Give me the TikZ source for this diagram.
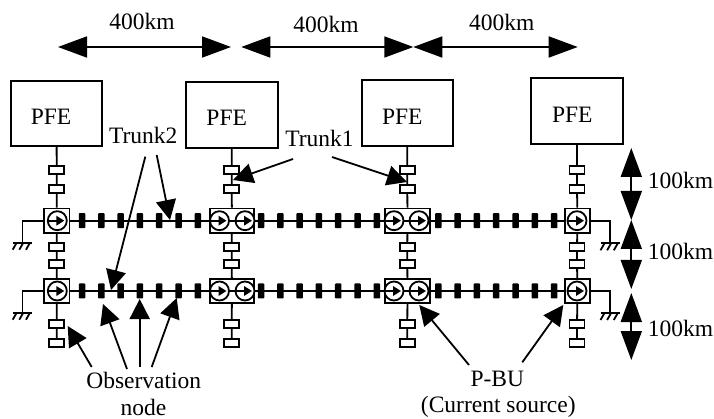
\documentclass[tikz,border=0pt]{standalone}
\usepackage{fontspec}
\setmainfont{Liberation Serif}
\usetikzlibrary{arrows.meta}
\tikzset{
    lbl/.style={anchor=base, inner sep=0pt, font=\fontsize{23.5}{28}\selectfont},
    pfebox/.style={draw, fill=white, inner sep=0pt},
    bubox/.style={draw, fill=white, inner sep=0pt, minimum height=24.5pt},
    rep/.style={draw, fill=white, inner sep=0pt, minimum width=15pt, minimum height=8pt},
    obs/.style={fill=black, inner sep=0pt, rounded corners=0.8pt, minimum width=6.5pt, minimum height=15pt},
    source/.style={circle, draw, fill=white, inner sep=0pt, minimum size=19pt, path picture={
        \draw[-{Triangle[length=8pt,width=9.5pt]}] (path picture bounding box.west) -- ([xshift=-2.5pt]path picture bounding box.east);}},
    dimarrow/.style={{Triangle[length=29pt,width=21pt]}-{Triangle[length=29pt,width=21pt]}},
    pointer/.style={-{Triangle[length=20pt,width=20pt]}},
    gnd/.pic={
        \draw (-9.5,0) -- (9.5,0);
        \draw (-5.8,0) -- (-9.8,7);
        \draw (0.8,0) -- (-3.2,7);
        \draw (7.5,0) -- (3.5,7);
    },
}
\begin{document}
\begin{tikzpicture}[x=1pt, y=-1pt, line width=1.8pt]
    \useasboundingbox (0,0) rectangle (714,419);
    \node[pfebox, minimum width=91.7pt, minimum height=65.3pt] (pfe1) at (56.5,113.7) {};
    \node[pfebox, minimum width=92pt, minimum height=65.3pt] (pfe2) at (232,115) {};
    \node[pfebox, minimum width=91pt, minimum height=65.7pt] (pfe3) at (407.2,112.8) {};
    \node[pfebox, minimum width=92pt, minimum height=65.7pt] (pfe4) at (577,111.2) {};
    \node[lbl] (pfetext1) at (51,124.3) {PFE};
    \node[lbl] (pfetext2) at (226.7,125.3) {PFE};
    \node[lbl] (pfetext3) at (402.3,124.3) {PFE};
    \node[lbl] (pfetext4) at (572.3,122.3) {PFE};
    \node[rep] (rep11) at (56.7,170) {};
    \node[rep] (rep12) at (56.7,189.3) {};
    \node[rep] (rep13) at (56.7,246.7) {};
    \node[rep] (rep14) at (56.7,264) {};
    \node[rep] (rep15) at (56.7,324) {};
    \node[rep] (rep16) at (56.7,343.3) {};
    \node[rep] (rep21) at (231.7,170) {};
    \node[rep] (rep22) at (231.7,189.3) {};
    \node[rep] (rep23) at (231.7,246.7) {};
    \node[rep] (rep24) at (231.7,264) {};
    \node[rep] (rep25) at (231.7,324) {};
    \node[rep] (rep26) at (231.7,343.3) {};
    \node[rep] (rep31) at (407.3,170) {};
    \node[rep] (rep32) at (407.3,189.3) {};
    \node[rep] (rep33) at (407.3,246.7) {};
    \node[rep] (rep34) at (407.3,264) {};
    \node[rep] (rep35) at (407.3,324) {};
    \node[rep] (rep36) at (407.3,343.3) {};
    \node[rep] (rep41) at (577,170) {};
    \node[rep] (rep42) at (577,189.3) {};
    \node[rep] (rep43) at (577,246.7) {};
    \node[rep] (rep44) at (577,264) {};
    \node[rep] (rep45) at (577,324) {};
    \node[rep] (rep46) at (577,343.3) {};
    \node[bubox, minimum width=25.5pt] (bu1a) at (56.7,220.7) {};
    \node[bubox, minimum width=44.5pt] (bu2a) at (232,220.7) {};
    \node[bubox, minimum width=45pt] (bu3a) at (407.5,220.7) {};
    \node[bubox, minimum width=25.5pt] (bu4a) at (577.5,220.7) {};
    \node[bubox, minimum width=25.5pt] (bu1b) at (56.7,291) {};
    \node[bubox, minimum width=44.5pt] (bu2b) at (232,291) {};
    \node[bubox, minimum width=45pt] (bu3b) at (407.5,291) {};
    \node[bubox, minimum width=25.5pt] (bu4b) at (577.5,291) {};
    \node[source] (src1a) at (57.3,220.7) {};
    \node[source] (src2a) at (219.5,220.7) {};
    \node[source] (src2c) at (245,220.7) {};
    \node[source] (src3a) at (394,220.7) {};
    \node[source] (src3c) at (419,220.7) {};
    \node[source] (src4a) at (577,220.7) {};
    \node[source] (src1b) at (57.3,291) {};
    \node[source] (src2b) at (219.5,291) {};
    \node[source] (src2d) at (245,291) {};
    \node[source] (src3b) at (394,291) {};
    \node[source] (src3d) at (419,291) {};
    \node[source] (src4b) at (577,291) {};
    \draw (pfe1) -- (rep11) -- (rep12) -- (bu1a) -- (rep13) -- (rep14) -- (bu1b) -- (rep15) -- (rep16);
    \draw (pfe2) -- (rep21) -- (rep22) -- (bu2a) -- (rep23) -- (rep24) -- (bu2b) -- (rep25) -- (rep26);
    \draw (pfe3) -- (rep31) -- (rep32) -- (bu3a) -- (rep33) -- (rep34) -- (bu3b) -- (rep35) -- (rep36);
    \draw (pfe4) -- (rep41) -- (rep42) -- (bu4a) -- (rep43) -- (rep44) -- (bu4b) -- (rep45) -- (rep46);
    \draw (bu1a) -- (bu2a);
    \draw (bu2a) -- (bu3a);
    \draw (bu3a) -- (bu4a);
    \draw (bu1b) -- (bu2b);
    \draw (bu2b) -- (bu3b);
    \draw (bu3b) -- (bu4b);
    \draw (src2a) -- (src2c);
    \draw (src3a) -- (src3c);
    \draw (src2b) -- (src2d);
    \draw (src3b) -- (src3d);
    \node[obs] (obs1a) at (82,220.7) {};
    \node[obs] (obs2a) at (101.3,220.7) {};
    \node[obs] (obs3a) at (120.6,220.7) {};
    \node[obs] (obs4a) at (139.9,220.7) {};
    \node[obs] (obs5a) at (159.2,220.7) {};
    \node[obs] (obs6a) at (178.5,220.7) {};
    \node[obs] (obs7a) at (197.8,220.7) {};
    \node[obs] (obs8a) at (261,220.7) {};
    \node[obs] (obs9a) at (280.3,220.7) {};
    \node[obs] (obs10a) at (299.6,220.7) {};
    \node[obs] (obs11a) at (318.9,220.7) {};
    \node[obs] (obs12a) at (338.2,220.7) {};
    \node[obs] (obs13a) at (357.5,220.7) {};
    \node[obs] (obs14a) at (376.8,220.7) {};
    \node[obs] (obs15a) at (438.3,220.7) {};
    \node[obs] (obs16a) at (457.6,220.7) {};
    \node[obs] (obs17a) at (476.9,220.7) {};
    \node[obs] (obs18a) at (496.2,220.7) {};
    \node[obs] (obs19a) at (515.5,220.7) {};
    \node[obs] (obs20a) at (534.8,220.7) {};
    \node[obs] (obs21a) at (554.1,220.7) {};
    \node[obs] (obs1b) at (82,291) {};
    \node[obs] (obs2b) at (101.3,291) {};
    \node[obs] (obs3b) at (120.6,291) {};
    \node[obs] (obs4b) at (139.9,291) {};
    \node[obs] (obs5b) at (159.2,291) {};
    \node[obs] (obs6b) at (178.5,291) {};
    \node[obs] (obs7b) at (197.8,291) {};
    \node[obs] (obs8b) at (261,291) {};
    \node[obs] (obs9b) at (280.3,291) {};
    \node[obs] (obs10b) at (299.6,291) {};
    \node[obs] (obs11b) at (318.9,291) {};
    \node[obs] (obs12b) at (338.2,291) {};
    \node[obs] (obs13b) at (357.5,291) {};
    \node[obs] (obs14b) at (376.8,291) {};
    \node[obs] (obs15b) at (438.3,291) {};
    \node[obs] (obs16b) at (457.6,291) {};
    \node[obs] (obs17b) at (476.9,291) {};
    \node[obs] (obs18b) at (496.2,291) {};
    \node[obs] (obs19b) at (515.5,291) {};
    \node[obs] (obs20b) at (534.8,291) {};
    \node[obs] (obs21b) at (554.1,291) {};
    \coordinate (gnd1a) at (22.5,242.7);
    \coordinate (gnd4a) at (610.3,243.3);
    \coordinate (gnd1b) at (22.5,312.7);
    \coordinate (gnd4b) at (610.3,313);
    \draw (bu1a) -| (gnd1a);
    \draw (bu4a) -| (gnd4a);
    \draw (bu1b) -| (gnd1b);
    \draw (bu4b) -| (gnd4b);
    \pic at (gnd1a) {gnd};
    \pic at (gnd4a) {gnd};
    \pic at (gnd1b) {gnd};
    \pic at (gnd4b) {gnd};
    \coordinate (span0) at (58,47);
    \coordinate (span1) at (231,47);
    \coordinate (span2) at (241.3,47);
    \coordinate (span3) at (413.3,47);
    \coordinate (span4) at (577.7,47);
    \draw[dimarrow] (span0) -- (span1);
    \draw[dimarrow] (span2) -- (span3);
    \draw[dimarrow] (span3) -- (span4);
    \node[lbl] (km400a) at (142,30) {400km};
    \node[lbl] (km400b) at (326,32.7) {400km};
    \node[lbl] (km400c) at (501.7,31) {400km};
    \coordinate (drop0) at (631.3,148);
    \coordinate (drop1) at (631.3,220);
    \coordinate (drop2) at (631.3,289);
    \coordinate (drop3) at (631.3,293);
    \coordinate (drop4) at (631.3,360);
    \draw[dimarrow] (drop0) -- (drop1);
    \draw[dimarrow] (drop1) -- (drop2);
    \draw[dimarrow] (drop3) -- (drop4);
    \node[lbl] (km100a) at (680.5,188.3) {100km};
    \node[lbl] (km100b) at (680.5,259.3) {100km};
    \node[lbl] (km100c) at (680.5,336) {100km};
    \node[lbl] (trunk2) at (143.3,144) {Trunk2};
    \node[lbl] (trunk1) at (319.5,146.7) {Trunk1};
    \coordinate (t2from1) at (145.3,156.7);
    \coordinate (t2to1) at (111,290);
    \coordinate (t2from2) at (156.7,155);
    \coordinate (t2to2) at (170,220);
    \coordinate (t1from1) at (293,159);
    \coordinate (t1to1) at (233,180);
    \coordinate (t1from2) at (332,157);
    \coordinate (t1to2) at (407,182);
    \draw[pointer] (t2from1) -- (t2to1);
    \draw[pointer] (t2from2) -- (t2to2);
    \draw[pointer] (t1from1) -- (t1to1);
    \draw[pointer] (t1from2) -- (t1to2);
    \node[lbl] (obstext) at (143.8,388) {Observation};
    \node[lbl] (nodetext) at (143.5,415) {node};
    \coordinate (obfrom1) at (91.7,367);
    \coordinate (obto1) at (67.7,326);
    \coordinate (obfrom2) at (127,369);
    \coordinate (obto2) at (103,304);
    \coordinate (obfrom3) at (139.7,367);
    \coordinate (obto3) at (139.7,299);
    \coordinate (obfrom4) at (151.7,367);
    \coordinate (obto4) at (176.7,298);
    \draw[pointer] (obfrom1) -- (obto1);
    \draw[pointer] (obfrom2) -- (obto2);
    \draw[pointer] (obfrom3) -- (obto3);
    \draw[pointer] (obfrom4) -- (obto4);
    \node[lbl] (pbutext) at (497.3,386) {P-BU};
    \node[lbl] (curtext) at (498.3,412.7) {(Current source)};
    \coordinate (pbfrom1) at (469,365);
    \coordinate (pbto1) at (419.3,305);
    \coordinate (pbfrom2) at (522.3,362.3);
    \coordinate (pbto2) at (563.3,305);
    \draw[pointer] (pbfrom1) -- (pbto1);
    \draw[pointer] (pbfrom2) -- (pbto2);
\end{tikzpicture}
\end{document}
